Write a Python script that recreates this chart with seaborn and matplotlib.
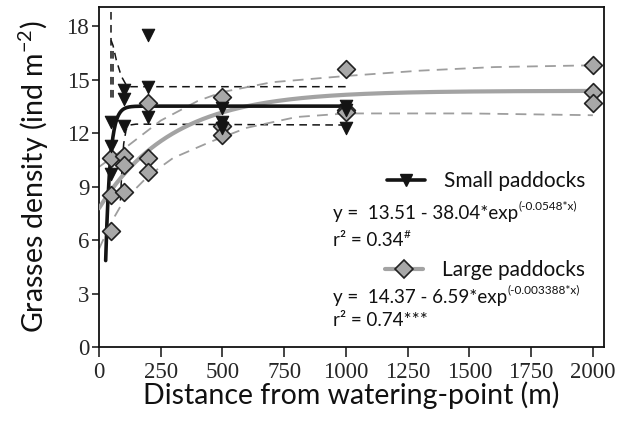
import numpy as np
import pandas as pd
import seaborn as sns
import matplotlib
matplotlib.use("Agg")
import matplotlib.pyplot as plt
from matplotlib.lines import Line2D

# ---------------- data ----------------
small_x = [50, 50, 50, 100, 100, 100, 200, 200, 200, 500, 500, 500, 1000, 1000, 1000]
small_y = [12.6, 11.3, 9.7, 14.4, 13.9, 12.4, 17.5, 14.6, 12.9, 13.4, 12.6, 12.3, 13.5, 13.3, 12.3]
large_x = [50, 50, 50, 100, 100, 100, 200, 200, 200, 500, 500, 500, 1000, 1000, 1000, 2000, 2000, 2000]
large_y = [10.6, 8.5, 6.5, 10.7, 10.2, 8.7, 13.7, 10.6, 9.8, 14.0, 12.4, 11.9, 15.6, 13.3, 13.2, 15.8, 14.3, 13.7]

# fitted models printed on the chart: y = a - b*exp(-c*x)
small_fit = [13.51, 38.04, 0.0548]
small_fit_range = [27, 1000]
large_fit = [14.37, 6.59, 0.003388]
large_fit_range = [0, 2000]

# confidence bands
small_band_a_x = [48.5, 48.5]
small_band_a_y = [19.5, 13.9]
small_band_b_x = [56, 56]
small_band_b_y = [16.6, 13.9]
small_upper_x = [49, 57, 70, 90, 110, 120, 140, 1000]
small_upper_y = [17.2, 16.9, 16.1, 15.2, 14.7, 14.6, 14.6, 14.6]
small_lower_x = [1000, 150, 125, 110, 100, 95, 90, 86]
small_lower_y = [12.45, 12.5, 12.45, 12.2, 11.4, 10.5, 9.2, 8.0]

large_upper_x = [0, 50, 100, 175, 250, 400, 500, 700, 1000, 1300, 1600, 2000]
large_upper_y = [10.1, 10.6, 11.1, 11.9, 12.7, 13.8, 14.3, 14.85, 15.2, 15.5, 15.7, 15.8]
large_lower_x = [0, 50, 100, 200, 300, 450, 600, 800, 1000, 1500, 2000]
large_lower_y = [5.5, 7.0, 8.2, 9.6, 10.6, 11.5, 12.3, 12.9, 13.1, 13.1, 13.0]

x_ticks = [0, 250, 500, 750, 1000, 1250, 1500, 1750, 2000]
y_ticks = [0, 3, 6, 9, 12, 15, 18]

# ---------------- style ----------------
sns.set_theme(style="ticks")
SANS = ["Lato", "DejaVu Sans"]
SERIF = ["Liberation Serif", "DejaVu Serif"]
plt.rcParams["font.family"] = SANS
plt.rcParams["mathtext.fontset"] = "custom"
plt.rcParams["mathtext.rm"] = "Lato"
plt.rcParams["mathtext.default"] = "regular"

W, H = 630, 434
fig = plt.figure(figsize=(W / 100, H / 100), dpi=100)
ax = fig.add_axes([99 / W, 1 - 347 / H, 505 / W, 340 / H])

BLACK = "#141414"
GRAY_LINE = "#a3a3a3"
GRAY_DASH = "#9e9e9e"
DIAMOND_FILL = "#a8a8a8"

def model(p, x):
    return p[0] - p[1] * np.exp(-p[2] * np.asarray(x))

xs_s = np.linspace(small_fit_range[0], small_fit_range[1], 600)
xs_l = np.linspace(large_fit_range[0], large_fit_range[1], 600)

# bands
for bx, by in [(small_band_a_x, small_band_a_y), (small_band_b_x, small_band_b_y),
               (small_upper_x, small_upper_y), (small_lower_x, small_lower_y)]:
    sns.lineplot(x=bx, y=by, ax=ax, color=BLACK, lw=1.1, linestyle=(0, (5, 3.5)),
                 estimator=None, sort=False, zorder=2)
for bx, by in [(large_upper_x, large_upper_y), (large_lower_x, large_lower_y)]:
    sns.lineplot(x=bx, y=by, ax=ax, color=GRAY_DASH, lw=1.3, linestyle=(0, (6, 4)),
                 estimator=None, sort=False, zorder=2)

# fitted curves
sns.lineplot(x=xs_l, y=model(large_fit, xs_l), ax=ax, color=GRAY_LINE, lw=3.0,
             estimator=None, sort=False, zorder=3)
sns.lineplot(x=xs_s, y=model(small_fit, xs_s), ax=ax, color=BLACK, lw=2.6,
             estimator=None, sort=False, zorder=4)

# points
sns.scatterplot(x=large_x, y=large_y, ax=ax, marker="D", s=82, color=DIAMOND_FILL,
                edgecolor="#222222", linewidth=1.2, zorder=5)
sns.scatterplot(x=small_x, y=small_y, ax=ax, marker="v", s=80, color=BLACK,
                edgecolor=BLACK, linewidth=0.8, zorder=6)

ax.set_xlim(0, 2045)
ax.set_ylim(0, 19.07)
ax.set_xticks(x_ticks)
ax.set_yticks(y_ticks)
ax.set_xticklabels([str(t) for t in x_ticks], family=SERIF, fontsize=16.5)
ax.set_yticklabels([str(t) for t in y_ticks], family=SERIF, fontsize=16.5)
ax.tick_params(axis="x", direction="out", length=7, width=1.1, color="#111", pad=4)
ax.tick_params(axis="y", direction="out", length=5, width=1.1, color="#111", pad=2)
for sp in ax.spines.values():
    sp.set_visible(True)
    sp.set_color("#111")
    sp.set_linewidth(1.3)

ax.set_xlabel("Distance from watering-point (m)", fontsize=20.5, color="#111")
ax.set_ylabel("Grasses density (ind m$^{-2}$)", fontsize=20.5, color="#111")
ax.xaxis.label.set_va("center")
ax.yaxis.label.set_va("center")
ax.xaxis.set_label_coords(0.5, (347 - 395) / 340)
ax.yaxis.set_label_coords((34 - 99) / 505, 0.5)

# legends
h_small = Line2D([], [], color=BLACK, lw=2.6, marker="v", ms=9, mfc=BLACK, mec=BLACK)
h_large = Line2D([], [], color=GRAY_LINE, lw=3.0, marker="D", ms=8.8, mfc=DIAMOND_FILL,
                 mec="#222222", mew=1.2)
leg1 = fig.legend([h_small], ["Small paddocks"], loc="center left",
                  bbox_to_anchor=(387 / W, 1 - 181 / H), frameon=False, fontsize=15,
                  handlelength=1.8, handletextpad=0.95, borderpad=0, borderaxespad=0)
leg2 = fig.legend([h_large], ["Large paddocks"], loc="center left",
                  bbox_to_anchor=(385 / W, 1 - 270 / H), frameon=False, fontsize=15,
                  handlelength=1.8, handletextpad=0.95, borderpad=0, borderaxespad=0)
for lg in (leg1, leg2):
    for t in lg.get_texts():
        t.set_color("#111")

# equations with superscripts
renderer = fig.canvas.get_renderer()

def sup_text(xpx, ypx, main, sup, size, sup_size, rise):
    t = fig.text(xpx / W, 1 - ypx / H, main, fontsize=size, va="center", ha="left", color="#111")
    bb = t.get_window_extent(renderer=renderer)
    fig.text(bb.x1 / W, (1 - ypx / H) + rise / H, sup, fontsize=sup_size, va="center",
             ha="left", color="#111")

sup_text(333, 214, "y =  13.51 - 38.04*exp", "(-0.0548*x)", 13.5, 8.5, 8)
sup_text(333, 241, "r\u00b2 = 0.34", "#", 13.5, 8.5, 6)
sup_text(333, 298, "y =  14.37 - 6.59*exp", "(-0.003388*x)", 13.5, 8.5, 8)
fig.text(333 / W, 1 - 321 / H, "r\u00b2 = 0.74***", fontsize=13.5, va="center", ha="left",
         color="#111")

fig.savefig("out.png", dpi=100)
